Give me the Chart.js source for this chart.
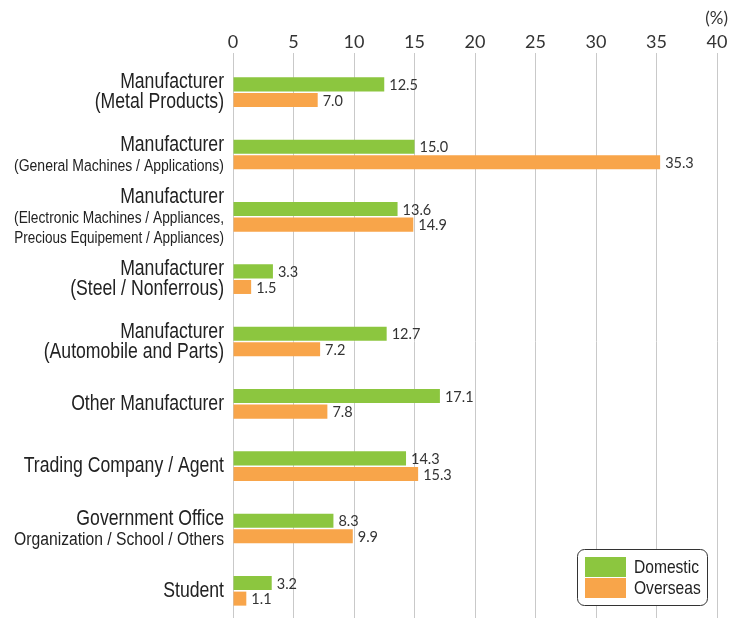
<!DOCTYPE html>
<html>
<head>
<meta charset="utf-8">
<script src="https://cdn.jsdelivr.net/npm/chart.js@4.4.1/dist/chart.umd.min.js"></script>
<style>
  html, body { margin: 0; padding: 0; background: #fff; overflow: hidden; }
  #wrap { width: 731px; height: 618px; overflow: hidden; position: relative; }
  #box { width: 731px; height: 622px; position: absolute; left: 0; top: 0; }
</style>
</head>
<body>
<div id="wrap"><div id="box"><canvas id="mycanvas"></canvas></div></div>
<script>
// category labels, one entry per line
var categories = [
  ["Manufacturer", "(Metal Products)"],
  ["Manufacturer", "(General Machines / Applications)"],
  ["Manufacturer", "(Electronic Machines / Appliances,", "Precious Equipement / Appliances)"],
  ["Manufacturer", "(Steel / Nonferrous)"],
  ["Manufacturer", "(Automobile and Parts)"],
  ["Other Manufacturer"],
  ["Trading Company / Agent"],
  ["Government Office", "Organization / School / Others"],
  ["Student"]
];
var seriesNames = ["Domestic", "Overseas"];
var domestic = [12.5, 15.0, 13.6, 3.3, 12.7, 17.1, 14.3, 8.3, 3.2];
var overseas = [7.0, 35.3, 14.9, 1.5, 7.2, 7.8, 15.3, 9.9, 1.1];
var xTicks = [0, 5, 10, 15, 20, 25, 30, 35, 40];
var unitLabel = "(%)";

var GREEN = "#8cc63f";
var ORANGE = "#f8a54a";
var labelFont = "'Liberation Sans', Arial, sans-serif";
var SQUEEZE = 0.82; // fake a condensed face by squeezing horizontally

function narrowWidth(ctx, text, size) {
  ctx.font = size + "px " + labelFont;
  return ctx.measureText(text).width * SQUEEZE;
}

function drawNarrow(ctx, text, x, y, size) {
  ctx.save();
  ctx.font = size + "px " + labelFont;
  ctx.translate(x, y);
  ctx.scale(SQUEEZE, 1);
  ctx.fillText(text, 0, 0);
  ctx.restore();
}

// draws the multi-line category names, value labels, unit and legend box
var extrasPlugin = {
  id: 'extras',
  afterDraw: function(chart) {
    var ctx = chart.ctx;
    var yScale = chart.scales.y;
    ctx.save();

    // category labels (lines that are too wide get shrunk)
    ctx.fillStyle = "#222";
    ctx.textAlign = "right";
    ctx.textBaseline = "alphabetic";
    var right = chart.chartArea.left - 9;
    for (var i = 0; i < categories.length; i++) {
      var lines = categories[i];
      var cy = yScale.getPixelForValue(i);
      var first = cy - (lines.length - 1) * 10 + 6;
      for (var j = 0; j < lines.length; j++) {
        var size = 21.5;
        var w = narrowWidth(ctx, lines[j], size);
        if (w > 210) {
          size = size * 210 / w;
        }
        drawNarrow(ctx, lines[j], right, first + j * 20, size.toFixed(2));
      }
    }

    // value labels at bar ends
    ctx.font = "14.5px Lato, sans-serif";
    ctx.fillStyle = "#333";
    ctx.textAlign = "left";
    ctx.textBaseline = "middle";
    chart.data.datasets.forEach(function(ds, di) {
      var meta = chart.getDatasetMeta(di);
      meta.data.forEach(function(bar, k) {
        ctx.fillText(ds.data[k].toFixed(1), bar.x + 5, bar.y + 1);
      });
    });

    // unit label
    ctx.font = "17px Lato, sans-serif";
    ctx.textAlign = "right";
    ctx.fillStyle = "#333";
    ctx.fillText(unitLabel, 728, 19);

    // legend box
    var lx = 577.5, ly = 549.5, lw = 130, lh = 56;
    ctx.beginPath();
    ctx.roundRect(lx, ly, lw, lh, 7);
    ctx.fillStyle = "#fff";
    ctx.fill();
    ctx.strokeStyle = "#333";
    ctx.lineWidth = 1;
    ctx.stroke();
    var colors = [GREEN, ORANGE];
    ctx.textAlign = "left";
    for (var s = 0; s < seriesNames.length; s++) {
      ctx.fillStyle = colors[s];
      ctx.fillRect(585, 557 + s * 21, 41, 20);
      ctx.fillStyle = "#222";
      drawNarrow(ctx, seriesNames[s], 634, 568 + s * 21, 19);
    }
    ctx.restore();
  }
};

var chartdata = {
  labels: categories.map(function(c) { return c.join(" "); }),
  datasets: [
    {
      label: seriesNames[0],
      data: domestic,
      backgroundColor: GREEN,
      borderWidth: 0,
      categoryPercentage: 0.5,
      barPercentage: 0.9
    },
    {
      label: seriesNames[1],
      data: overseas,
      backgroundColor: ORANGE,
      borderWidth: 0,
      categoryPercentage: 0.5,
      barPercentage: 0.9
    }
  ]
};

var ctx = document.getElementById("mycanvas");
var BarGraph = new Chart(ctx, {
  type: 'bar',
  data: chartdata,
  plugins: [extrasPlugin],
  options: {
    indexAxis: 'y',
    responsive: true,
    maintainAspectRatio: false,
    animation: false,
    layout: {
      padding: { left: 233, right: 14, top: 0, bottom: 0 }
    },
    scales: {
      x: {
        position: 'top',
        min: xTicks[0],
        max: xTicks[xTicks.length - 1],
        afterBuildTicks: function(scale) {
          scale.ticks = xTicks.map(function(v) { return { value: v }; });
        },
        afterFit: function(scale) { scale.height = 61; },
        ticks: {
          padding: 0,
          color: "#333",
          font: { family: "Lato, sans-serif", size: 18 }
        },
        grid: {
          color: "#c9c9c9",
          lineWidth: 1,
          tickLength: 8
        },
        border: { display: false }
      },
      y: {
        display: false,
        grid: { display: false }
      }
    },
    plugins: {
      legend: { display: false },
      tooltip: { enabled: false },
      title: { display: false }
    }
  }
});
</script>
</body>
</html>
